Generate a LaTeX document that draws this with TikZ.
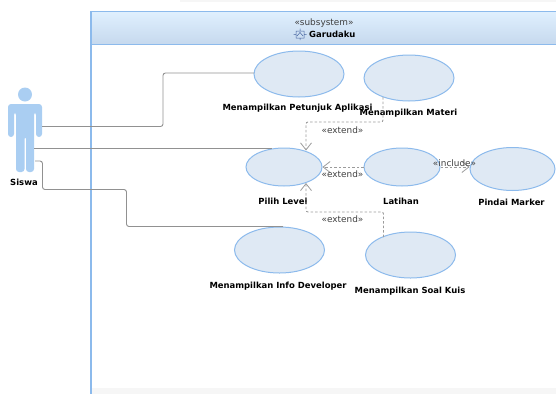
\documentclass[tikz,border=0pt]{standalone}
\usepackage{fontspec}
\setmainfont{DejaVu Sans}
\usetikzlibrary{arrows.meta,shapes.geometric}
\definecolor{edgeblue}{RGB}{140,186,236}
\definecolor{fillblue}{RGB}{223,233,244}
\definecolor{actorblue}{RGB}{170,206,242}
\definecolor{headtop}{RGB}{224,240,254}
\definecolor{headbot}{RGB}{198,217,238}
\definecolor{linegray}{RGB}{145,145,145}
\definecolor{dashgray}{RGB}{155,155,155}
\definecolor{bandgray}{RGB}{246,246,246}
\definecolor{iconblue}{RGB}{70,100,160}
\tikzset{
  x=1pt,y=-1pt,
  ucA/.style={ellipse,draw=edgeblue,fill=fillblue,line width=1pt,inner sep=0pt,minimum width=90pt,minimum height=46pt},
  ucB/.style={ellipse,draw=edgeblue,fill=fillblue,line width=1pt,inner sep=0pt,minimum width=76pt,minimum height=38pt},
  ucC/.style={ellipse,draw=edgeblue,fill=fillblue,line width=1pt,inner sep=0pt,minimum width=85pt,minimum height=43pt},
  lbl/.style={anchor=base,font=\bfseries\fontsize{8.45pt}{10pt}\selectfont,text=black,inner sep=0pt},
  stereo/.style={anchor=base,font=\fontsize{8.9pt}{10pt}\selectfont,text=black!75,inner sep=0pt},
  assoc/.style={draw=linegray,line width=0.9pt,rounded corners=2.5pt},
  dep/.style={draw=dashgray,line width=0.9pt,dash pattern=on 2.5pt off 2pt,rounded corners=2pt,-{Straight Barb[length=7pt,width=11pt,line width=0.8pt]}},
}
\begin{document}
\begin{tikzpicture}
\useasboundingbox (0,0) rectangle (556,394);
\fill[bandgray] (180,0) rectangle (556,1.5);
\fill[bandgray] (91,388) rectangle (556,394);
% frame
\shade[top color=headtop,bottom color=headbot] (91,11) rectangle (556,44);
\fill[edgeblue] (90,10.5) rectangle (92,394);
\fill[edgeblue] (90,10.5) rectangle (556,12);
\fill[edgeblue] (91,43.5) rectangle (556,44.8);
\node[stereo] (subs) at (324,25) {«subsystem»};
\node[lbl,anchor=base west] (gar) at (309,37) {Garudaku};
\draw[draw=iconblue,line width=0.5pt] (296,31) rectangle (304,38) (293.5,34.5)--(296,34.5) (304,34.5)--(306.5,34.5) (300,28.5)--(300,31) (300,38)--(300,40) (297,36)--(300,32.5)--(303,36);
% actor
\fill[actorblue] (25,94.5) circle (7);
\fill[actorblue,rounded corners=3pt] (8,137) -- (8,104) -- (42,104) -- (42,137) -- (36,137) -- (36,112) -- (34,112) -- (34,172) -- (26,172) -- (26,136) -- (24.5,136) -- (24.5,172) -- (16,172) -- (16,112) -- (14,112) -- (14,137) -- cycle;
\node[lbl] (siswa) at (24,185) {Siswa};
\coordinate (a1) at (42,126.5);
\coordinate (a2) at (34,148);
\coordinate (a3) at (35,161);
% use cases
\node[ucA] (e1) at (299,74) {};
\node[ucA] (e2) at (409,78) {};
\node[ucB] (e3) at (284,167) {};
\node[ucB] (e4) at (402,167) {};
\node[ucC] (e5) at (512.5,169) {};
\node[ucA] (e6) at (279.5,250) {};
\node[ucA] (e7) at (410.5,255) {};
% labels
\node[lbl] (l1) at (297.5,110) {Menampilkan Petunjuk Aplikasi};
\node[lbl] (l2) at (408.5,115) {Menampilkan Materi};
\node[lbl] (l3) at (283,204) {Pilih Level};
\node[lbl] (l4) at (401,204) {Latihan};
\node[lbl] (l5) at (511.5,205.5) {Pindai Marker};
\node[lbl] (l6) at (278,288) {Menampilkan Info Developer};
\node[lbl] (l7) at (410,293) {Menampilkan Soal Kuis};
% associations
\draw[assoc] (a1) -- (163,126.5) -- (163,73) -- (254,73);
\draw[assoc] (a2) -- (272,148);
\draw[assoc] (a3) -- (42.5,161) -- (42.5,189.5) -- (126.5,189.5) -- (126.5,226.5) -- (283,226.5);
% dependencies
\coordinate (d2) at (383,97);
\coordinate (d3a) at (306,150.5);
\coordinate (d7) at (383.5,237);
\coordinate (d3b) at (306,183);
\draw[dep] (d2) -- (383,122) -- (306,122) -- (d3a);
\draw[dep] (e4.west) -- (e3.east);
\draw[dep] (d7) -- (383.5,212) -- (306,212) -- (d3b);
\draw[dep] (e4.east) -- (e5.west|-e4.east);
\node[stereo] (x1) at (342.5,133.5) {«extend»};
\node[stereo] (x2) at (342.5,177.5) {«extend»};
\node[stereo] (x3) at (342.5,222.5) {«extend»};
\node[stereo] (x4) at (454.5,166) {«include»};
\end{tikzpicture}
\end{document}
